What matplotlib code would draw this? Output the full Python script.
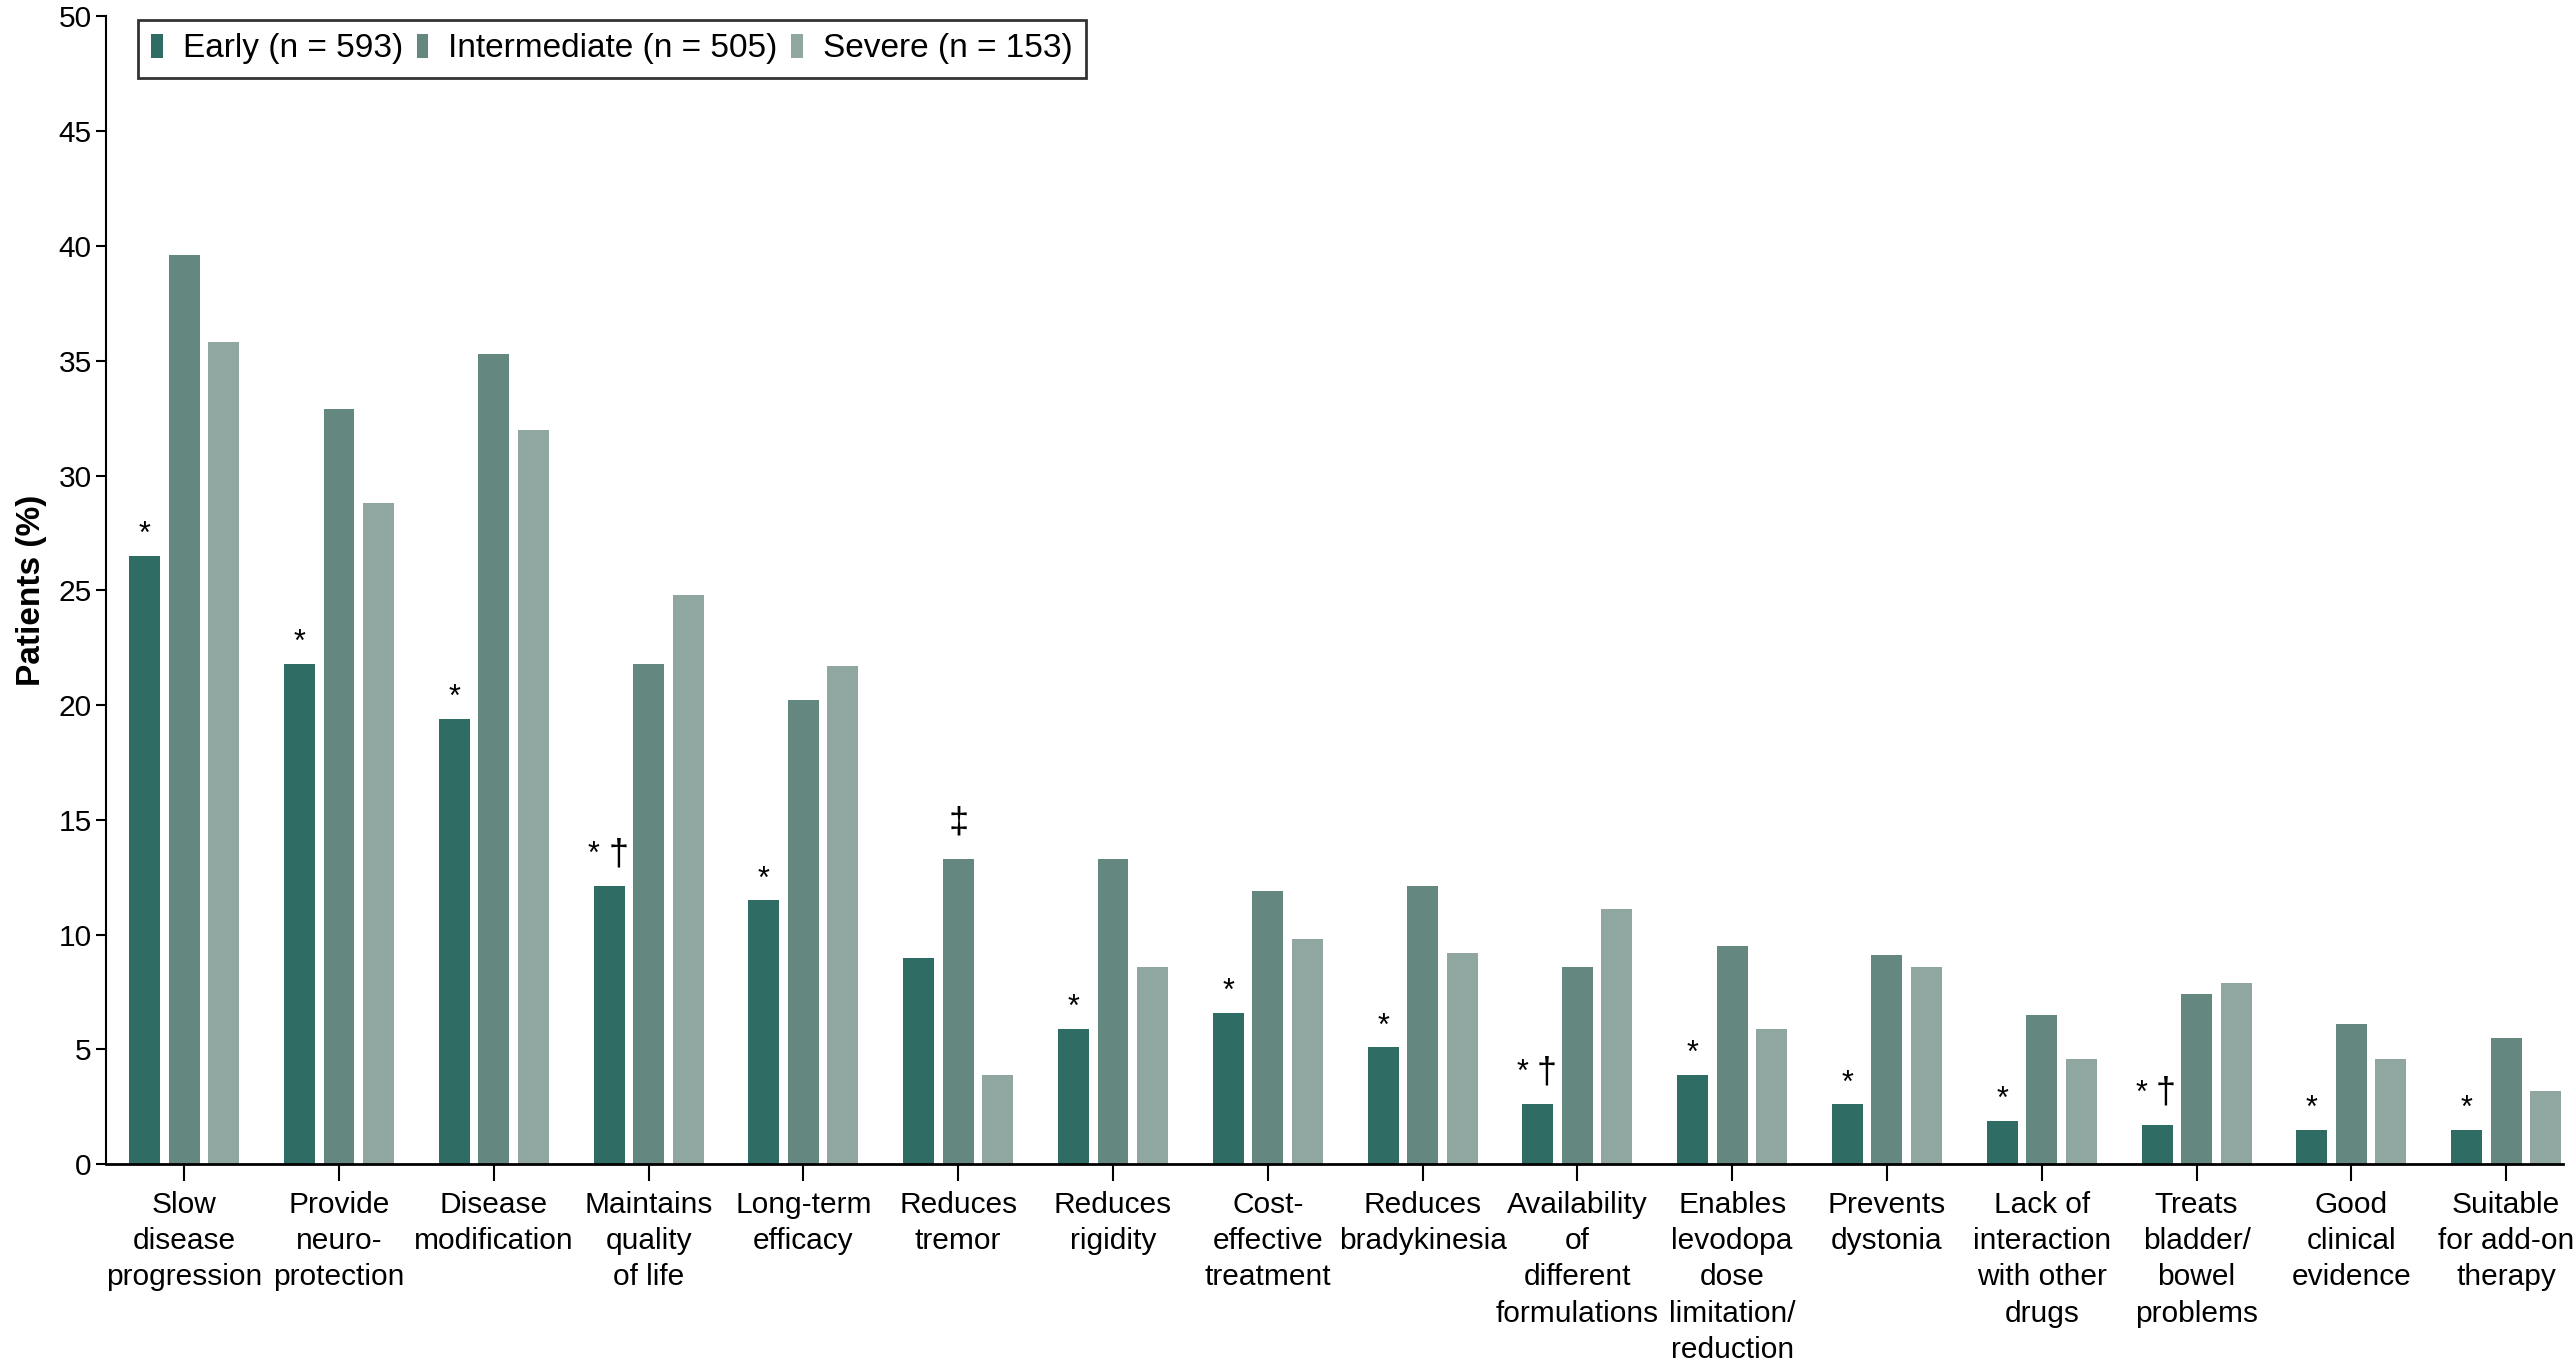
import numpy as np
import matplotlib.pyplot as plt

plt.rcParams['font.family'] = ['Liberation Sans', 'DejaVu Sans']

categories = [
    "Slow\ndisease\nprogression", "Provide\nneuro-\nprotection", "Disease\nmodification",
    "Maintains\nquality\nof life", "Long-term\nefficacy", "Reduces\ntremor",
    "Reduces\nrigidity", "Cost-\neffective\ntreatment", "Reduces\nbradykinesia",
    "Availability\nof\ndifferent\nformulations", "Enables\nlevodopa\ndose\nlimitation/\nreduction",
    "Prevents\ndystonia", "Lack of\ninteraction\nwith other\ndrugs", "Treats\nbladder/\nbowel\nproblems",
    "Good\nclinical\nevidence", "Suitable\nfor add-on\ntherapy",
]

early = [26.5, 21.8, 19.4, 12.1, 11.5, 9.0, 5.9, 6.6, 5.1, 2.6, 3.9, 2.6, 1.9, 1.7, 1.5, 1.5]
intermediate = [39.6, 32.9, 35.3, 21.8, 20.2, 13.3, 13.3, 11.9, 12.1, 8.6, 9.5, 9.1, 6.5, 7.4, 6.1, 5.5]
severe = [35.8, 28.8, 32.0, 24.8, 21.7, 3.9, 8.6, 9.8, 9.2, 11.1, 5.9, 8.6, 4.6, 7.9, 4.6, 3.2]

series_labels = ["Early (n = 593)", "Intermediate (n = 505)", "Severe (n = 153)"]
colors = ["#2f6c63", "#64887f", "#8fa6a1"]

# significance marks above early bars (*, *†) and intermediate bars (‡)
early_marks = ["*", "*", "*", "*†", "*", "", "*", "*", "*", "*†", "*", "*", "*", "*†", "*", "*"]
inter_marks = ["", "", "", "", "", "‡", "", "", "", "", "", "", "", "", "", ""]

fig = plt.figure(figsize=(25.75, 13.68), dpi=100)
ax = fig.add_axes([0.041, 0.149, 0.9545, 0.839])

x = np.arange(len(categories))
step = 0.255
width = 0.2
for i, (vals, lab, c) in enumerate(zip([early, intermediate, severe], series_labels, colors)):
    ax.bar(x + (i - 1) * step, vals, width=width, color=c, label=lab, edgecolor='none')

for xi, m, v in zip(x, early_marks, early):
    if m == "*":
        ax.annotate("*", (xi - step, v), xytext=(0, 9), textcoords='offset points',
                    ha='center', va='baseline', fontsize=22)
    elif m:
        ax.annotate("*", (xi - step, v), xytext=(-11, 17), textcoords='offset points',
                    ha='center', va='baseline', fontsize=22)
        ax.annotate("†", (xi - step, v), xytext=(6.5, 16), textcoords='offset points',
                    ha='center', va='baseline', fontsize=26)
for xi, m, v in zip(x, inter_marks, intermediate):
    if m:
        ax.annotate(m, (xi, v), xytext=(0, 19), textcoords='offset points',
                    ha='center', va='baseline', fontsize=26)

ax.set_xlim(-0.508, 15.37)
ax.set_ylim(0, 50)
ax.set_yticks(np.arange(0, 51, 5))
ax.set_xticks(x)
ax.set_xticklabels(categories, fontsize=21.5, linespacing=1.38, va='top')
ax.tick_params(axis='y', labelsize=21.5, length=7, width=1.5, direction='out', pad=3)
ax.tick_params(axis='x', length=12, width=1.5, direction='out', pad=7)
ax.spines['top'].set_visible(False)
ax.spines['right'].set_visible(False)
ax.spines['left'].set_linewidth(1.5)
ax.spines['bottom'].set_linewidth(2)

ax.set_ylabel("Patients (%)", fontsize=24, fontweight='bold', labelpad=8)

leg = ax.legend(loc='upper left', ncol=3, bbox_to_anchor=(138 / 2575, 1 - 20 / 1368),
                bbox_transform=fig.transFigure, borderaxespad=0, fontsize=24,
                frameon=True, fancybox=False, edgecolor='black', handlelength=0.35,
                handleheight=0.75, handletextpad=0.6, columnspacing=0.4, borderpad=0.4)
leg.get_frame().set_linewidth(2)

fig.savefig("out.png", dpi=100)
